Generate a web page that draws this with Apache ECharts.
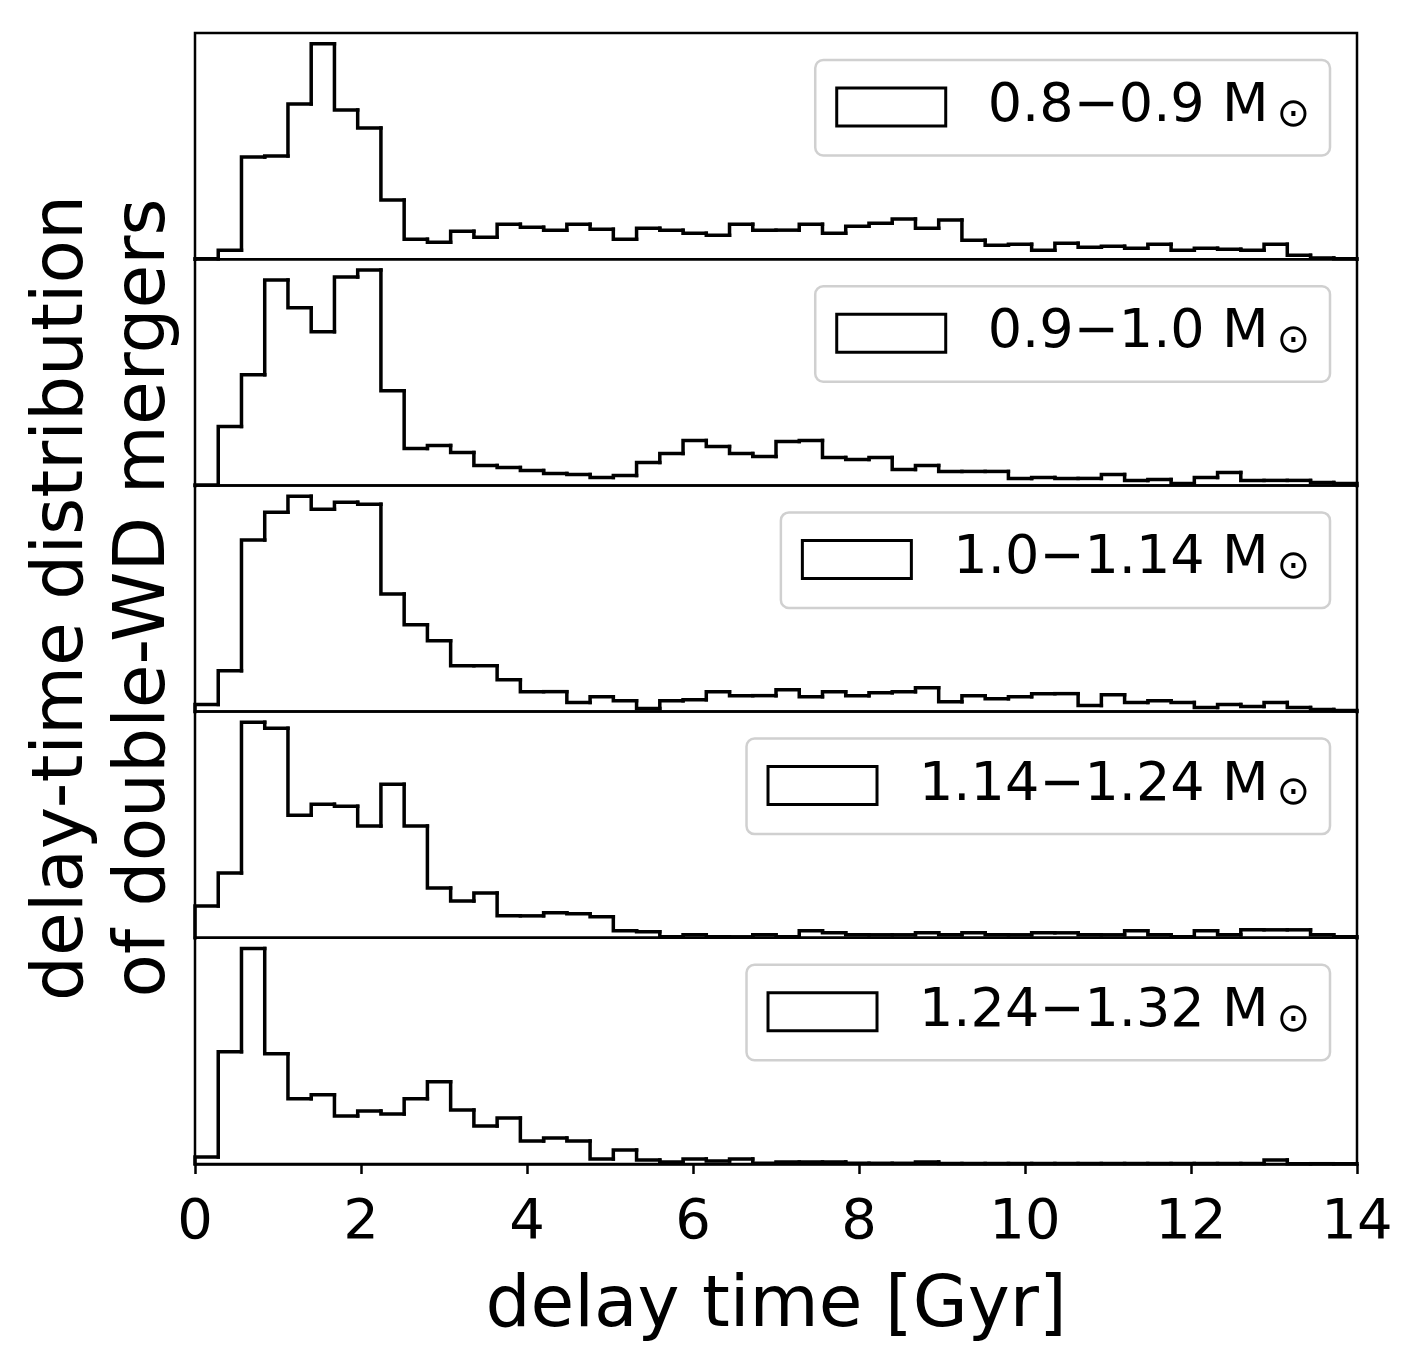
<!DOCTYPE html>
<html>
<head>
<meta charset="utf-8" />
<title>delay-time distribution of double-WD mergers</title>
<script src="https://cdn.jsdelivr.net/npm/echarts@6/dist/echarts.min.js"></script>
<style>
    * { margin: 0; padding: 0; box-sizing: border-box; }
    body { background: #fff; }
    #chart { width: 1427px; height: 1370px; }
</style>
</head>
<body>
<div id="chart"></div>
<script>
// histogram: 50 bins of 0.28 Gyr between 0 and 14 Gyr
const BIN_WIDTH = 0.28;
const xTicks = [0, 2, 4, 6, 8, 10, 12, 14];
const massLabels = ['0.8\u22120.9', '0.9\u22121.0', '1.0\u22121.14', '1.14\u22121.24', '1.24\u22121.32'];

// bin heights (arbitrary units)
const mass_08_09 = [0.5, 9, 102, 103, 155, 215, 149, 131, 59, 20, 17, 28, 22, 35, 32, 29, 35, 30, 20, 31,
    29, 26, 24, 35, 29, 29, 35, 26, 33, 36, 40, 31, 39, 19, 14, 15, 9, 16, 12, 13,
    11, 15, 9, 11, 10, 9, 15, 4, 1.3, 0.5];
const mass_09_10 = [0.5, 59, 111, 206, 178, 154, 209, 216, 95, 37, 40, 33, 20, 18, 15, 12, 11, 8, 10, 23,
    32, 45, 39, 32, 29, 44, 45, 28, 26, 28, 16, 20, 14, 14, 14, 7, 8, 7, 7, 11,
    5, 6, 2, 8, 13, 5, 5, 5, 3, 2];
const mass_10_114 = [7, 41, 172, 200, 216, 203, 210, 208, 118, 87, 71, 46, 46, 32, 20, 20, 9, 15, 11, 3,
    11, 12, 20, 16, 16, 22, 15, 20, 16, 19, 20, 24, 10, 16, 13, 15, 18, 18, 6, 17,
    9, 11, 9, 4, 7, 5, 9, 4, 2, 1];
const mass_114_124 = [32, 65, 216, 210, 123, 134, 132, 112, 154, 112, 50, 37, 45, 22, 22, 25, 24, 21, 7, 6,
    1, 3, 1, 1, 3, 1, 7, 5, 3, 3, 3, 5, 3, 5, 3, 3, 5, 5, 3, 3,
    7, 3, 1, 7, 3, 8, 8, 8, 3, 1];
const mass_124_132 = [7, 112, 215, 110, 65, 69, 48, 53, 50, 65, 82, 54, 38, 46, 23, 26, 23, 5, 14, 4,
    2, 5, 3, 5, 0.7, 2, 2, 2, 0.7, 0.7, 0.7, 2, 0.5, 0.5, 0.5, 0.5, 0.5, 0.5, 0.5, 0.5,
    0.5, 0.5, 0.5, 0.5, 0.5, 0.5, 4, 0.3, 0.3, 0.3];

const panels = [mass_08_09, mass_09_10, mass_10_114, mass_114_124, mass_124_132];

const PLOT_LEFT = 195, PLOT_RIGHT = 70, PLOT_TOP = 33;
const PANEL_H = (1164 - 33) / 5;
const FONT = "'DejaVu Sans', sans-serif";

// one item per bin: [left edge, right edge, height, height of previous bin]
function binItems(values) {
    return values.map(function (v, i) {
        return [i * BIN_WIDTH, (i + 1) * BIN_WIDTH, v, i > 0 ? values[i - 1] : 0];
    });
}

// matplotlib-style 'step' outline, drawn bin by bin
function stepRenderer(n) {
    return function (params, api) {
        const x0 = api.value(0), x1 = api.value(1), v = api.value(2), prev = api.value(3);
        const pts = [api.coord([x0, prev]), api.coord([x0, v]), api.coord([x1, v])];
        if (params.dataIndex === n - 1) pts.push(api.coord([x1, 0]));
        return {
            type: 'polyline',
            shape: { points: pts },
            style: { stroke: '#000', lineWidth: 3.5, fill: null, lineCap: 'square', lineJoin: 'miter' }
        };
    };
}

const chart = echarts.init(document.getElementById('chart'));
const last = panels.length - 1;

const option = {
    animation: false,
    backgroundColor: '#fff',
    grid: panels.map(function (d, i) {
        return {
            left: PLOT_LEFT, right: PLOT_RIGHT,
            top: PLOT_TOP + i * PANEL_H, height: PANEL_H,
            show: true, borderColor: '#000', borderWidth: 2.5, backgroundColor: 'transparent'
        };
    }),
    xAxis: panels.map(function (d, i) {
        const bottom = i === last;
        return {
            type: 'value', gridIndex: i, min: 0, max: 14, interval: 2,
            splitLine: { show: false },
            axisLine: { show: bottom, lineStyle: { color: '#000', width: 2.5 } },
            axisTick: { show: bottom, length: 10, lineStyle: { color: '#000', width: 2.5 } },
            axisLabel: {
                show: bottom, color: '#000', fontSize: 56, fontFamily: FONT, margin: 31,
                formatter: function (v) { return xTicks.indexOf(v) >= 0 ? String(v) : ''; }
            },
            name: bottom ? 'delay time [Gyr]' : '',
            nameLocation: 'middle', nameGap: 108,
            nameTextStyle: { color: '#000', fontSize: 71, fontFamily: FONT }
        };
    }),
    yAxis: panels.map(function (d, i) {
        return {
            type: 'value', gridIndex: i, min: 0, max: Math.max.apply(null, d) * 1.05,
            axisLine: { show: false }, axisTick: { show: false },
            axisLabel: { show: false }, splitLine: { show: false }
        };
    }),
    legend: panels.map(function (d, i) {
        return {
            data: [massLabels[i]],
            selectedMode: false,
            right: 97, top: PLOT_TOP + i * PANEL_H + 27,
            icon: 'rect', itemWidth: 109, itemHeight: 38,
            itemStyle: { color: '#fff', borderColor: '#000', borderWidth: 3 },
            backgroundColor: 'rgba(255,255,255,0.8)',
            borderColor: '#d0d0d0', borderWidth: 2.5, borderRadius: 8,
            padding: [20, 20, 20, 20],
            formatter: function (name) { return '{t|' + name + ' M}{s|\u2299}'; },
            textStyle: {
                rich: {
                    t: { fontSize: 54, fontFamily: FONT, color: '#000', lineHeight: 57, padding: [0, 0, 0, 37] },
                    s: { fontSize: 40, fontFamily: FONT, color: '#000', lineHeight: 30, verticalAlign: 'bottom', padding: [0, 0, 0, 8] }
                }
            }
        };
    }),
    series: panels.map(function (d, i) {
        return {
            name: massLabels[i], type: 'custom',
            xAxisIndex: i, yAxisIndex: i,
            data: binItems(d),
            encode: { x: [0, 1], y: [2, 3] },
            renderItem: stepRenderer(d.length),
            itemStyle: { color: '#fff', borderColor: '#000' }
        };
    }),
    graphic: [{
        type: 'text', x: 105, y: 598, rotation: Math.PI / 2,
        style: {
            text: 'delay-time distribution\nof double-WD mergers',
            fontSize: 71, fontFamily: FONT, fill: '#000',
            align: 'center', verticalAlign: 'middle', lineHeight: 82
        }
    }]
};

chart.setOption(option);
</script>
</body>
</html>
